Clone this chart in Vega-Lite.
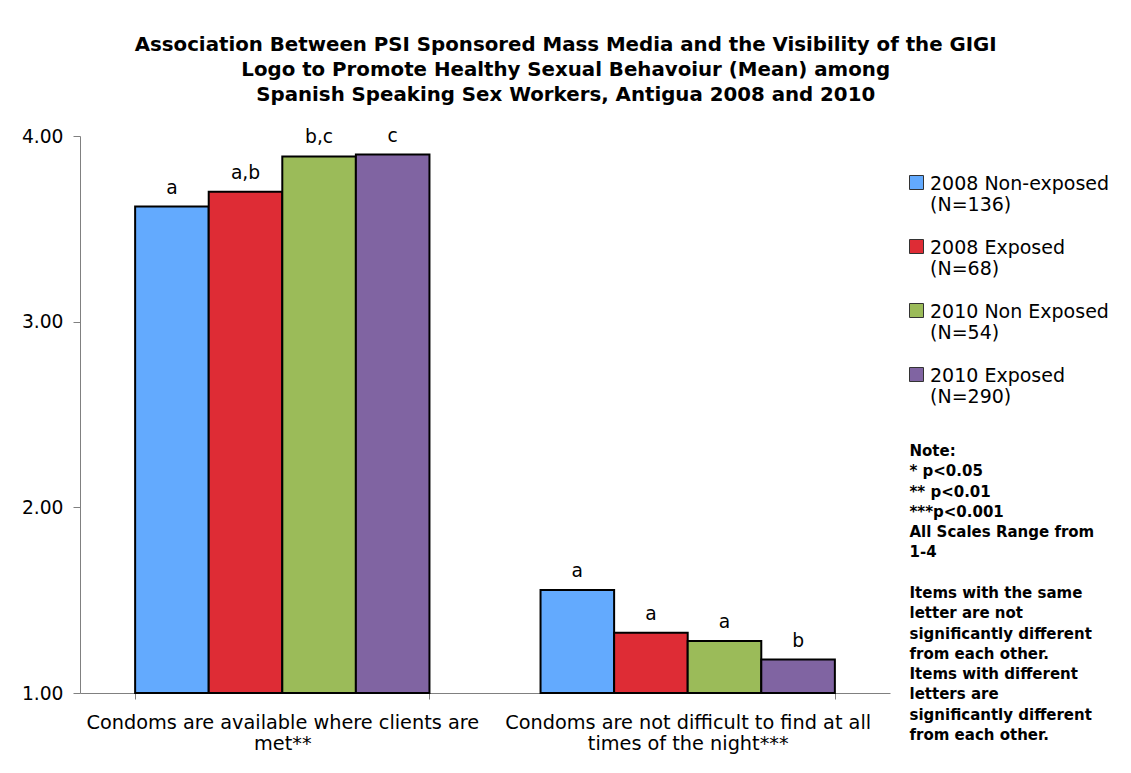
{
  "$schema": "https://vega.github.io/schema/vega-lite/v6.json",
  "autosize": {"type": "pad"},
  "padding": {"left": 21, "top": 34, "right": 5, "bottom": 5},
  "background": "white",
  "title": {
    "text": ["Association Between PSI Sponsored Mass Media and the Visibility of the GIGI", "Logo to Promote Healthy Sexual Behavoiur (Mean) among", " Spanish Speaking Sex Workers, Antigua 2008 and 2010"],
    "font": "DejaVu Sans", "fontSize": 19.8, "fontWeight": "bold", "color": "black", "lineHeight": 25, "anchor": "middle", "offset": 22, "dx": 0
  },
  "config": {"view": {"stroke": null}, "font": "DejaVu Sans"},
  "spacing": 19,
  "resolve": {"scale": {"color": "shared"}, "legend": {"color": "shared"}},
  "hconcat": [
    {
      "width": 810,
      "height": 557,
      "data": {"values": [
        {"item": "Condoms are available where clients are met**", "group": "2008 Non-exposed", "value": 3.62, "letter": "a"},
        {"item": "Condoms are available where clients are met**", "group": "2008 Exposed", "value": 3.70, "letter": "a,b"},
        {"item": "Condoms are available where clients are met**", "group": "2010 Non Exposed", "value": 3.89, "letter": "b,c"},
        {"item": "Condoms are available where clients are met**", "group": "2010 Exposed", "value": 3.90, "letter": "c"},
        {"item": "Condoms are not difficult to find at all times of the night***", "group": "2008 Non-exposed", "value": 1.555, "letter": "a"},
        {"item": "Condoms are not difficult to find at all times of the night***", "group": "2008 Exposed", "value": 1.325, "letter": "a"},
        {"item": "Condoms are not difficult to find at all times of the night***", "group": "2010 Non Exposed", "value": 1.28, "letter": "a"},
        {"item": "Condoms are not difficult to find at all times of the night***", "group": "2010 Exposed", "value": 1.18, "letter": "b"}
      ]},
      "encoding": {
        "x": {
          "field": "item", "type": "nominal",
          "sort": ["Condoms are available where clients are met**", "Condoms are not difficult to find at all times of the night***"],
          "scale": {"paddingInner": 0.274, "paddingOuter": 0.136},
          "axis": {
            "title": null, "labelAngle": 0, "tickBand": "extent", "labelLimit": 0,
            "labelExpr": "datum.value == 'Condoms are available where clients are met**' ? ['Condoms are available where clients are', 'met**'] : datum.value == 'Condoms are not difficult to find at all times of the night***' ? ['Condoms are not difficult to find at all', 'times of the night***'] : ''",
            "labelFontSize": 19.3, "labelColor": "black", "labelLineHeight": 21, "labelPadding": 14,
            "domainColor": "#808080", "tickColor": "#808080", "tickSize": 6
          }
        },
        "xOffset": {"field": "group", "type": "nominal", "sort": ["2008 Non-exposed", "2008 Exposed", "2010 Non Exposed", "2010 Exposed"]},
        "y": {
          "field": "value", "type": "quantitative",
          "scale": {"domain": [1, 4], "zero": false, "nice": false},
          "axis": {
            "title": null, "values": [1, 2, 3, 4], "format": ".2f", "grid": false,
            "labelFontSize": 18.7, "labelColor": "black", "labelPadding": 10, "tickSize": 7,
            "domainColor": "#808080", "tickColor": "#808080"
          }
        }
      },
      "layer": [
        {
          "mark": {"type": "bar", "stroke": "black", "strokeWidth": 2},
          "encoding": {
            "y2": {"datum": 1},
            "color": {
              "field": "group", "type": "nominal",
              "scale": {"domain": ["2008 Non-exposed", "2008 Exposed", "2010 Non Exposed", "2010 Exposed"], "range": ["#63AAFE", "#DE2C35", "#9BBB59", "#8064A2"]},
              "legend": {
                "orient": "none", "legendX": 827, "legendY": 37, "title": null, "padding": 0,
                "symbolType": "square", "symbolSize": 196, "symbolStrokeColor": "#333333", "symbolStrokeWidth": 1, "symbolOpacity": 1,
                "labelFont": "DejaVu Sans", "labelFontSize": 19, "labelColor": "black", "labelOffset": 4, "labelLimit": 0,
                "labelBaseline": "top", "labelLineHeight": 21.5, "rowPadding": 22,
                "labelExpr": "datum.value == '2008 Non-exposed' ? ['2008 Non-exposed', '(N=136)'] : datum.value == '2008 Exposed' ? ['2008 Exposed', '(N=68)'] : datum.value == '2010 Non Exposed' ? [' 2010 Non Exposed', '(N=54)'] : ['2010 Exposed', '(N=290)']",
                "encode": {"labels": {"update": {"dy": {"value": -8}}}}
              }
            }
          }
        },
        {
          "mark": {"type": "text", "baseline": "alphabetic", "dy": -13, "fontSize": 18.7, "color": "black"},
          "encoding": {"text": {"field": "letter"}}
        }
      ]
    },
    {
      "width": 1,
      "height": 557,
      "data": {"values": [
        {"line": 0, "note": "Note:"},
        {"line": 1, "note": "* p<0.05"},
        {"line": 2, "note": "** p<0.01"},
        {"line": 3, "note": "***p<0.001"},
        {"line": 4, "note": "All Scales Range from"},
        {"line": 5, "note": "1-4"},
        {"line": 7, "note": "Items with the same"},
        {"line": 8, "note": "letter are not"},
        {"line": 9, "note": "significantly different"},
        {"line": 10, "note": "from each other."},
        {"line": 11, "note": "Items with different"},
        {"line": 12, "note": "letters are"},
        {"line": 13, "note": "significantly different"},
        {"line": 14, "note": "from each other."}
      ]},
      "mark": {"type": "text", "align": "left", "baseline": "middle", "fontSize": 15, "fontWeight": "bold", "color": "black"},
      "encoding": {
        "y": {"field": "line", "type": "quantitative", "scale": {"domain": [-15.52, 11.93], "reverse": true, "nice": false, "zero": false}, "axis": null},
        "text": {"field": "note"}
      }
    }
  ]
}
